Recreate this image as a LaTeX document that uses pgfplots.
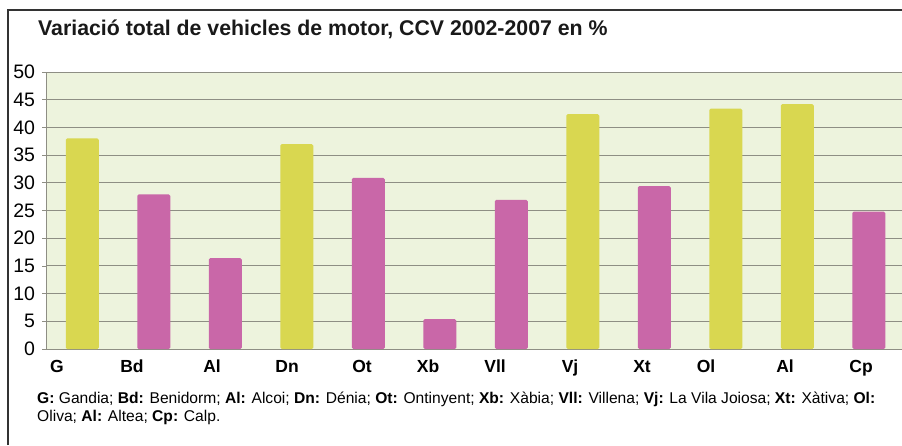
\documentclass[border=0pt]{standalone}
\usepackage{fontspec}
\setmainfont{Liberation Sans}
\usepackage{pgfplots}
\pgfplotsset{compat=1.18}
\definecolor{bg}{HTML}{EDF3DD}
\definecolor{ybar}{HTML}{D9D750}
\definecolor{pbar}{HTML}{C967A8}
\definecolor{gridc}{HTML}{8E8E84}
\begin{document}
\begin{tikzpicture}[x=1pt,y=1pt]
\useasboundingbox (0,0) rectangle (902,445);
\begin{axis}[
  at={(46.5pt,96pt)}, anchor=south west,
  scale only axis, width=855.5pt, height=277pt,
  xmin=-0.5, xmax=11.465, ymin=0, ymax=50,
  axis background/.style={fill=bg},
  axis x line*=bottom, axis y line*=left,
  axis line style={draw=gridc, line width=0.8pt},
  ytick={0,5,...,50},
  ymajorgrids, grid style={draw=gridc, line width=0.9pt},
  tick align=outside, major tick length=4.5pt,
  tick style={draw=gridc, line width=0.8pt},
  xtick={-0.353,0.696,1.815,2.864,3.913,4.836,5.773,6.822,7.829,8.724,9.829,10.892},
  xticklabels={G,Bd,Al,Dn,Ot,Xb,Vll,Vj,Xt,Ol,Al,Cp},
  xtick style={draw=none},
  extra x ticks={0.5,1.5,2.5,3.5,4.5,5.5,6.5,7.5,8.5,9.5,10.5},
  extra x tick labels={},
  extra x tick style={grid=none, tick style={draw=gridc, line width=0.8pt}, major tick length=4pt},
  x tick label style={font=\bfseries\fontsize{17.5}{17.5}\selectfont, anchor=base, yshift=-19pt},
  y tick label style={font=\fontsize{19.5}{19.5}\selectfont, anchor=east, xshift=-3.5pt},
  /pgf/number format/assume math mode=true,
  ybar, bar width=33pt, bar shift=0pt,
  every axis plot/.append style={draw=none, rounded corners=1.5pt},
]
\addplot[fill=ybar] coordinates {(0,38) (3,37) (7,42.4) (9,43.4) (10,44.2)};
\addplot[fill=pbar] coordinates {(1,27.9) (2,16.4) (4,30.9) (5,5.4) (6,26.9) (8,29.4) (11,24.8)};
\end{axis}
\draw[line width=1.3pt, color=black!80] (8,0) -- (8,435) -- (902,435);
\node[anchor=base west, inner sep=0pt, font=\bfseries\fontsize{21.3}{24}\selectfont, color=black!90] at (38,409) {Variació total de vehicles de motor, CCV 2002-2007 en \%};
\node[anchor=base west, inner sep=0pt, font=\fontsize{15.6}{18}\selectfont] at (37,42) {\textbf{G:} Gandia; \textbf{Bd:} Benidorm; \textbf{Al:} Alcoi; \textbf{Dn:} Dénia; \textbf{Ot:} Ontinyent; \textbf{Xb:} Xàbia; \textbf{Vll:} Villena; \textbf{Vj:} La Vila Joiosa; \textbf{Xt:} Xàtiva; \textbf{Ol:}};
\node[anchor=base west, inner sep=0pt, font=\fontsize{15.6}{18}\selectfont] at (37,24) {Oliva; \textbf{Al:} Altea; \textbf{Cp:} Calp.};
\end{tikzpicture}
\end{document}
